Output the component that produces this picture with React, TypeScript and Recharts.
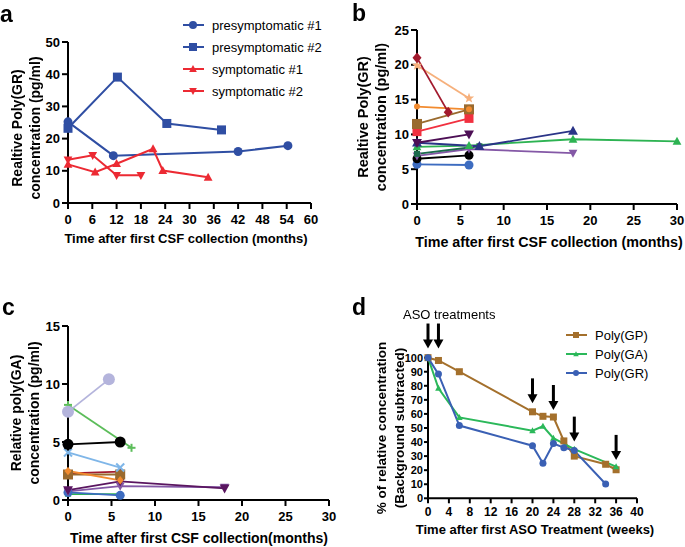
import React from 'react';
import { LineChart, Line, XAxis, YAxis, ComposedChart, Scatter, ReferenceLine } from 'recharts';

const FONT = '"Liberation Sans", Arial, Helvetica, sans-serif';

// ---- panel a: Poly(GR) per patient
const aTicksX = [0, 6, 12, 18, 24, 30, 36, 42, 48, 54, 60];
const aTicksY = [0, 10, 20, 30, 40, 50];
const presym1 = [{ x: 0, y: 25.2 }, { x: 11.2, y: 14.7 }, { x: 42, y: 16 }, { x: 54.3, y: 17.8 }];
const presym2 = [{ x: 0, y: 23.2 }, { x: 12.2, y: 39.1 }, { x: 24.4, y: 24.7 }, { x: 37.9, y: 22.7 }];
const sym1 = [{ x: 0, y: 12 }, { x: 6.7, y: 9.6 }, { x: 12, y: 12.2 }, { x: 21, y: 16.8 }, { x: 23.4, y: 10.1 }, { x: 34.6, y: 8 }];
const sym2 = [{ x: 0, y: 13.4 }, { x: 6.1, y: 14.8 }, { x: 12, y: 8.6 }, { x: 18, y: 8.6 }];

// ---- panel b: Poly(GR) per carrier
const bTicksX = [0, 5, 10, 15, 20, 25, 30];
const bTicksY = [0, 5, 10, 15, 20, 25];
const bDarkRed = [{ x: 0, y: 21 }, { x: 3.6, y: 13.2 }];
const bPeach = [{ x: 0, y: 19.9 }, { x: 6, y: 15.2 }];
const bOrange = [{ x: 0, y: 14 }, { x: 6, y: 13.6 }];
const bBrown = [{ x: 0, y: 11.5 }, { x: 6, y: 13.6 }];
const bRed = [{ x: 0, y: 10.4 }, { x: 6, y: 12.3 }];
const bPlum = [{ x: 0, y: 8.8 }, { x: 6, y: 10 }];
const bNavy = [{ x: 0, y: 8.8 }, { x: 7.2, y: 8.3 }, { x: 18, y: 10.5 }];
const bGreen = [{ x: 0, y: 8.2 }, { x: 6, y: 8.4 }, { x: 18, y: 9.3 }, { x: 30, y: 9 }];
const bTeal = [{ x: 0, y: 7.2 }, { x: 7.2, y: 8.3 }];
const bPurple = [{ x: 0, y: 6.9 }, { x: 6, y: 7.9 }, { x: 18, y: 7.3 }];
const bBlack = [{ x: 0, y: 6.5 }, { x: 6, y: 7 }];
const bBlue = [{ x: 0, y: 5.7 }, { x: 6, y: 5.6 }];

// ---- panel c: poly(GA) per carrier
const cTicksX = [0, 5, 10, 15, 20, 25, 30];
const cTicksY = [0, 5, 10, 15];
const cLavender = [{ x: 0, y: 7.6 }, { x: 4.7, y: 10.4 }];
const cGreen = [{ x: 0, y: 8.2 }, { x: 7.3, y: 4.5 }];
const cBlack = [{ x: 0, y: 4.8 }, { x: 6, y: 5 }];
const cSky = [{ x: 0, y: 4.1 }, { x: 6, y: 2.8 }];
const cDarkRed = [{ x: 0, y: 2.3 }, { x: 6, y: 2.45 }];
const cBrown = [{ x: 0, y: 2.2 }, { x: 6, y: 2.2 }];
const cOrange = [{ x: 0, y: 2.5 }, { x: 6, y: 1.7 }];
const cPlum = [{ x: 0, y: 0.85 }, { x: 6, y: 1.6 }, { x: 18, y: 1 }];
const cPurple = [{ x: 0, y: 0.75 }, { x: 6, y: 1.2 }, { x: 18, y: 1.1 }];
const cTeal = [{ x: 0, y: 0.5 }, { x: 6, y: 0.5 }];
const cBlue = [{ x: 0, y: 0.65 }, { x: 6, y: 0.4 }];

// ---- panel d: ASO treatment
const dTicksX = [0, 4, 8, 12, 16, 20, 24, 28, 32, 36, 40];
const dTicksY = [0, 10, 20, 30, 40, 50, 60, 70, 80, 90, 100];
const polyGP = [{ x: 0, y: 100 }, { x: 2, y: 98 }, { x: 6, y: 90 }, { x: 20, y: 61.5 }, { x: 22, y: 58.3 }, { x: 24, y: 57.8 }, { x: 26, y: 40.8 }, { x: 28, y: 30 }, { x: 34, y: 24.2 }, { x: 36, y: 20.3 }];
const polyGA = [{ x: 0, y: 100 }, { x: 2, y: 78.2 }, { x: 6, y: 57.5 }, { x: 20, y: 48.1 }, { x: 22, y: 51.2 }, { x: 24, y: 42.8 }, { x: 28, y: 35 }, { x: 36, y: 22.5 }];
const polyGR = [{ x: 0, y: 100 }, { x: 2, y: 88.3 }, { x: 6, y: 51.7 }, { x: 20, y: 37.4 }, { x: 22, y: 25 }, { x: 24, y: 39 }, { x: 26, y: 36 }, { x: 28, y: 33.9 }, { x: 34, y: 10.2 }];
const asoWeeks = [0, 2, 20, 24, 28, 36];
const asoArrowTip = [106.5, 106.5, 67.5, 62.8, 40.3, 27.3];
const asoArrows = asoWeeks.map((w, i) => ({ x: w, y: asoArrowTip[i] }));

type Shape = 'circle' | 'square' | 'triangle' | 'triangleDown' | 'diamond' | 'star' | 'plus' | 'cross';

function Marker({ cx, cy, shape, size, color }: { cx: number; cy: number; shape: Shape; size: number; color: string }) {
  if (cx == null || cy == null) return null;
  const h = size / 2;
  switch (shape) {
    case 'square':
      return <rect x={cx - h} y={cy - h} width={size} height={size} fill={color} />;
    case 'triangle':
      return <polygon points={`${cx},${cy - h * 1.15} ${cx - h * 1.1},${cy + h * 0.85} ${cx + h * 1.1},${cy + h * 0.85}`} fill={color} />;
    case 'triangleDown':
      return <polygon points={`${cx},${cy + h * 1.15} ${cx - h * 1.1},${cy - h * 0.85} ${cx + h * 1.1},${cy - h * 0.85}`} fill={color} />;
    case 'diamond':
      return <polygon points={`${cx},${cy - h * 1.2} ${cx + h},${cy} ${cx},${cy + h * 1.2} ${cx - h},${cy}`} fill={color} />;
    case 'star': {
      const pts: string[] = [];
      for (let k = 0; k < 10; k++) {
        const r = k % 2 === 0 ? h * 1.2 : h * 0.5;
        const a = -Math.PI / 2 + (k * Math.PI) / 5;
        pts.push(`${cx + r * Math.cos(a)},${cy + r * Math.sin(a)}`);
      }
      return <polygon points={pts.join(' ')} fill={color} />;
    }
    case 'plus':
      return (
        <g stroke={color} strokeWidth={2}>
          <line x1={cx - h} y1={cy} x2={cx + h} y2={cy} />
          <line x1={cx} y1={cy - h} x2={cx} y2={cy + h} />
        </g>
      );
    case 'cross':
      return (
        <g stroke={color} strokeWidth={2}>
          <line x1={cx - h} y1={cy - h} x2={cx + h} y2={cy + h} />
          <line x1={cx - h} y1={cy + h} x2={cx + h} y2={cy - h} />
        </g>
      );
    default:
      return <circle cx={cx} cy={cy} r={h} fill={color} />;
  }
}

const dotFn = (shape: Shape, color: string, size: number) => (p: any) =>
  <Marker key={`m-${p.index}`} cx={p.cx} cy={p.cy} shape={shape} color={color} size={size} />;

const Arrow = (p: any) => {
  const { cx, cy } = p;
  return (
    <g>
      <line x1={cx} y1={cy - 25} x2={cx} y2={cy - 8} stroke="#000" strokeWidth={3} />
      <polygon points={`${cx - 5},${cy - 9} ${cx + 5},${cy - 9} ${cx},${cy}`} fill="#000" />
    </g>
  );
};

interface SeriesDef { data: { x: number; y: number }[]; color: string; shape: Shape; size: number; name?: string }

const aSeries: SeriesDef[] = [
  { name: 'presymptomatic #1', data: presym1, color: '#2f4ea3', shape: 'circle', size: 9 },
  { name: 'presymptomatic #2', data: presym2, color: '#2f4ea3', shape: 'square', size: 9 },
  { name: 'symptomatic #1', data: sym1, color: '#ec2a33', shape: 'triangle', size: 8 },
  { name: 'symptomatic #2', data: sym2, color: '#ec2a33', shape: 'triangleDown', size: 8 },
];

const bSeries: SeriesDef[] = [
  { data: bBlue, color: '#3d6cc0', shape: 'circle', size: 9 },
  { data: bBlack, color: '#000000', shape: 'circle', size: 9 },
  { data: bPurple, color: '#8458a6', shape: 'triangleDown', size: 8 },
  { data: bTeal, color: '#1b6a4c', shape: 'square', size: 6 },
  { data: bGreen, color: '#2db352', shape: 'triangle', size: 8 },
  { data: bNavy, color: '#2a3487', shape: 'triangle', size: 9 },
  { data: bPlum, color: '#4d0f55', shape: 'triangleDown', size: 9 },
  { data: bRed, color: '#f1303f', shape: 'square', size: 9 },
  { data: bBrown, color: '#9a6a2e', shape: 'square', size: 10 },
  { data: bOrange, color: '#f28b2f', shape: 'circle', size: 6 },
  { data: bPeach, color: '#f6b07c', shape: 'star', size: 9 },
  { data: bDarkRed, color: '#a21a2e', shape: 'diamond', size: 9 },
];

const cSeries: SeriesDef[] = [
  { data: cTeal, color: '#2db352', shape: 'triangle', size: 6 },
  { data: cBlue, color: '#3d6cc0', shape: 'circle', size: 9 },
  { data: cPurple, color: '#8458a6', shape: 'triangleDown', size: 8 },
  { data: cPlum, color: '#5a1660', shape: 'triangleDown', size: 9 },
  { data: cDarkRed, color: '#a21a2e', shape: 'triangle', size: 8 },
  { data: cBrown, color: '#9a6a2e', shape: 'square', size: 10 },
  { data: cOrange, color: '#f28b2f', shape: 'diamond', size: 7 },
  { data: cSky, color: '#7fb6e8', shape: 'cross', size: 8 },
  { data: cBlack, color: '#000000', shape: 'circle', size: 11 },
  { data: cGreen, color: '#5cbd5a', shape: 'plus', size: 8 },
  { data: cLavender, color: '#b4b4dc', shape: 'circle', size: 12 },
];

const dSeries: SeriesDef[] = [
  { name: 'Poly(GP)', data: polyGP, color: '#a4702c', shape: 'square', size: 7 },
  { name: 'Poly(GA)', data: polyGA, color: '#2bb85a', shape: 'triangle', size: 6 },
  { name: 'Poly(GR)', data: polyGR, color: '#3a60b4', shape: 'circle', size: 7 },
];

const axisProps = { stroke: '#000', strokeWidth: 2 };

function abs(left: number, top: number): React.CSSProperties {
  return { position: 'absolute', left, top };
}

function YTitle({ cx, cy, lines, size }: { cx: number; cy: number; lines: string[]; size: number }) {
  return (
    <div
      style={{
        position: 'absolute', left: cx, top: cy, width: 300, textAlign: 'center',
        transform: 'translate(-50%, -50%) rotate(-90deg)', fontWeight: 700, fontSize: size,
        lineHeight: '18px', whiteSpace: 'nowrap',
      }}
    >
      {lines.map((l) => <div key={l}>{l}</div>)}
    </div>
  );
}

function XTitle({ cx, cy, text, size }: { cx: number; cy: number; text: string; size: number }) {
  return (
    <div
      style={{
        position: 'absolute', left: cx, top: cy, transform: 'translate(-50%, -50%)',
        fontWeight: 700, fontSize: size, whiteSpace: 'nowrap', lineHeight: 1,
      }}
    >
      {text}
    </div>
  );
}

function PanelLetter({ left, top, text }: { left: number; top: number; text: string }) {
  return <div style={{ ...abs(left, top), fontWeight: 700, fontSize: 23, lineHeight: '23px' }}>{text}</div>;
}

function LegendRows({ left, top, gap, series }: { left: number; top: number; gap: number; series: SeriesDef[] }) {
  return (
    <div style={abs(left, top)}>
      {series.map((s, i) => (
        <div key={s.name} style={{ position: 'absolute', top: i * gap, left: 0, display: 'flex', alignItems: 'center', height: 18, marginTop: -9 }}>
          <svg width={22} height={14}>
            <line x1={0} y1={7} x2={21} y2={7} stroke={s.color} strokeWidth={2} />
            <Marker cx={10} cy={7} shape={s.shape} color={s.color} size={s.size - 1} />
          </svg>
          <span style={{ marginLeft: 7, fontSize: 13, whiteSpace: 'nowrap' }}>{s.name}</span>
        </div>
      ))}
    </div>
  );
}

function renderLines(series: SeriesDef[], width: number) {
  return series.map((s, i) => (
    <Line
      key={i}
      data={s.data}
      dataKey="y"
      type="linear"
      stroke={s.color}
      strokeWidth={width}
      dot={dotFn(s.shape, s.color, s.size)}
      activeDot={false}
      isAnimationActive={false}
    />
  ));
}

export default function App() {
  const tick = { fill: '#000', fontSize: 13, fontWeight: 700 };
  return (
    <div style={{ position: 'fixed', left: 0, top: 0, width: 685, height: 547, background: '#fff', fontFamily: FONT, color: '#000' }}>
      {/* a */}
      <div style={abs(0, 0)}>
        <LineChart width={340} height={270} margin={{ top: 42, right: 29, left: 28, bottom: 37 }}>
          <XAxis type="number" dataKey="x" domain={[0, 60]} ticks={aTicksX} interval={0} axisLine={axisProps} tickLine={axisProps} tickSize={6} tickMargin={6} tick={tick} height={30} />
          <YAxis type="number" dataKey="y" domain={[0, 50]} ticks={aTicksY} interval={0} axisLine={axisProps} tickLine={axisProps} tickSize={6} tickMargin={2} tick={tick} width={40} />
          {renderLines(aSeries, 2)}
        </LineChart>
      </div>
      <LegendRows left={183} top={25} gap={22} series={aSeries} />
      <YTitle cx={26} cy={128} lines={['Realtive Poly(GR)', 'concentration (pg/ml)']} size={14} />
      <XTitle cx={186} cy={238} text="Time after first CSF collection (months)" size={13} />
      <PanelLetter left={0} top={3} text="a" />

      {/* b */}
      <div style={abs(340, 0)}>
        <LineChart width={345} height={270} margin={{ top: 30, right: 8, left: 37, bottom: 36 }}>
          <XAxis type="number" dataKey="x" domain={[0, 30]} ticks={bTicksX} interval={0} axisLine={axisProps} tickLine={axisProps} tickSize={6} tickMargin={6} tick={tick} height={30} />
          <YAxis type="number" dataKey="y" domain={[0, 25]} ticks={bTicksY} interval={0} axisLine={axisProps} tickLine={axisProps} tickSize={6} tickMargin={2} tick={tick} width={40} />
          {renderLines(bSeries, 1.8)}
        </LineChart>
      </div>
      <YTitle cx={372} cy={117} lines={['Realtive Poly(GR)', 'concentration (pg/ml)']} size={14.5} />
      <XTitle cx={549} cy={242} text="Time after first CSF collection (months)" size={14.3} />
      <PanelLetter left={352} top={2} text="b" />

      {/* c */}
      <div style={abs(0, 280)}>
        <LineChart width={340} height={267} margin={{ top: 46, right: 11, left: 28, bottom: 17 }}>
          <XAxis type="number" dataKey="x" domain={[0, 30]} ticks={cTicksX} interval={0} axisLine={axisProps} tickLine={axisProps} tickSize={6} tickMargin={6} tick={tick} height={30} />
          <YAxis type="number" dataKey="y" domain={[0, 15]} ticks={cTicksY} interval={0} axisLine={axisProps} tickLine={axisProps} tickSize={6} tickMargin={2} tick={tick} width={40} />
          {renderLines(cSeries, 1.8)}
        </LineChart>
      </div>
      <YTitle cx={25} cy={413} lines={['Relative poly(GA)', 'concentration (pg/ml)']} size={14} />
      <XTitle cx={199} cy={538} text="Time after first CSF collection(months)" size={14} />
      <PanelLetter left={2} top={296} text="c" />

      {/* d */}
      <div style={abs(340, 280)}>
        <ComposedChart width={345} height={267} margin={{ top: 42.5, right: 48, left: 48, bottom: 18.7 }}>
          <XAxis type="number" dataKey="x" domain={[0, 40]} ticks={dTicksX} interval={0} axisLine={axisProps} tickLine={axisProps} tickSize={5} tickMargin={4} tick={{ ...tick, fontSize: 12 }} height={30} />
          <YAxis type="number" dataKey="y" domain={[0, 125]} ticks={dTicksY} interval={0} axisLine={false} tickLine={axisProps} tickSize={4} tickMargin={1} tick={{ ...tick, fontSize: 11 }} width={40} />
          <ReferenceLine segment={[{ x: 0, y: 0 }, { x: 0, y: 100 }]} stroke="#000" strokeWidth={2} ifOverflow="visible" />
          {renderLines(dSeries, 2)}
          <Scatter data={asoArrows} dataKey="y" shape={Arrow} isAnimationActive={false} />
        </ComposedChart>
      </div>
      <LegendRows left={566} top={335} gap={19} series={dSeries} />
      <YTitle cx={391} cy={428} lines={['% of relative concentration', '(Background subtracted)']} size={13.5} />
      <XTitle cx={535} cy={529} text="Time after first ASO Treatment (weeks)" size={13} />
      <div style={{ ...abs(403, 307), fontSize: 13 }}>ASO treatments</div>
      <PanelLetter left={352} top={296} text="d" />
    </div>
  );
}
